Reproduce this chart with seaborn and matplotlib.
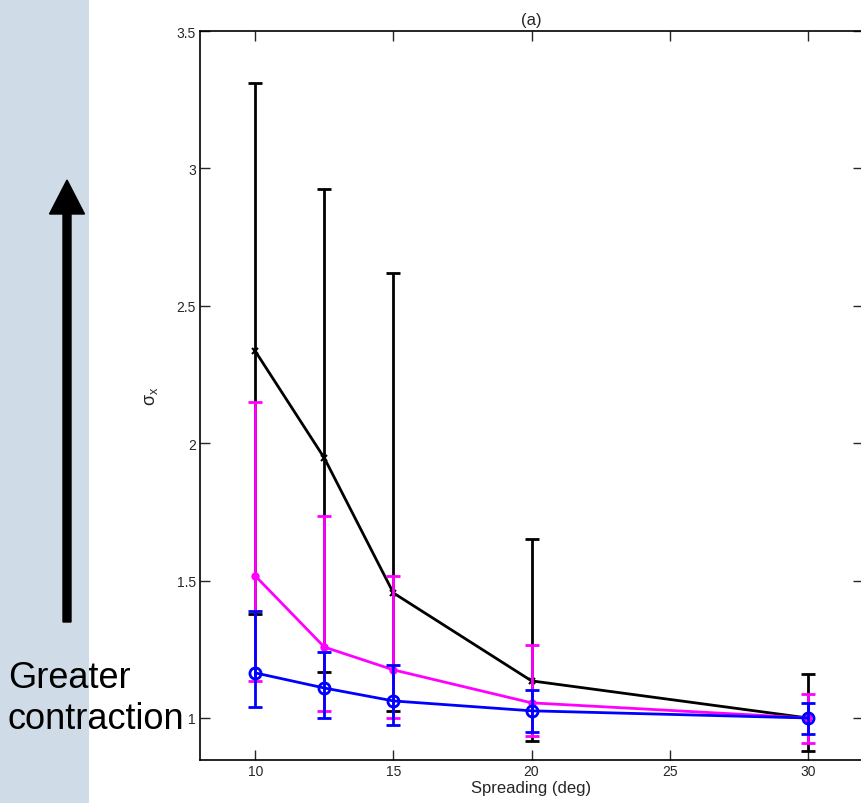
import matplotlib
matplotlib.use("Agg")
import matplotlib.pyplot as plt
import seaborn as sns
import pandas as pd
import numpy as np
from matplotlib.patches import Rectangle, FancyArrow

# ---- data ----
spreading = [10, 12.5, 15, 20, 30]
black_mean = [2.335, 1.946, 1.455, 1.135, 1.0]
black_upper = [3.311, 2.925, 2.619, 1.651, 1.160]
black_lower = [1.378, 1.167, 1.026, 0.916, 0.880]
magenta_mean = [1.517, 1.258, 1.175, 1.055, 1.0]
magenta_upper = [2.150, 1.735, 1.517, 1.266, 1.087]
magenta_lower = [1.135, 1.026, 1.000, 0.934, 0.909]
blue_mean = [1.164, 1.109, 1.062, 1.026, 1.0]
blue_upper = [1.389, 1.240, 1.193, 1.102, 1.055]
blue_lower = [1.040, 1.000, 0.975, 0.949, 0.942]
x_ticks = [10, 15, 20, 25, 30]
y_ticks = [1, 1.5, 2, 2.5, 3, 3.5]
y_tick_labels = ["1", "1.5", "2", "2.5", "3", "3.5"]

sns.set_style("ticks")
plt.rcParams['font.family'] = ['Liberation Sans', 'DejaVu Sans']
plt.rcParams['mathtext.fontset'] = 'custom'
plt.rcParams['mathtext.rm'] = 'Liberation Sans'
plt.rcParams['mathtext.it'] = 'Liberation Sans'

fig = plt.figure(figsize=(8.62, 8.04), dpi=100)

# left shaded band
fig.patches.append(Rectangle((0, 0), 89 / 862, 1, transform=fig.transFigure,
                             facecolor='#cfdce7', edgecolor='none', zorder=0))

ax = fig.add_axes([200 / 862, 1 - 761 / 804, 663 / 862, (761 - 32) / 804])

series = [
    ("black", black_mean, black_upper, black_lower, 'x', dict(markersize=4, mew=1.5, mfc='black')),
    ("magenta", magenta_mean, magenta_upper, magenta_lower, 'o', dict(markersize=5, mew=1, mfc='magenta')),
    ("blue", blue_mean, blue_upper, blue_lower, 'o', dict(markersize=8, mew=2, mfc='none')),
]

for i, (col, mean, up, lo, mk, mkw) in enumerate(series):
    mean_a = np.array(mean)
    yerr = [mean_a - np.array(lo), np.array(up) - mean_a]
    ax.errorbar(spreading, mean, yerr=yerr, fmt='none', ecolor=col,
                elinewidth=2, capsize=5, capthick=2, zorder=2 + i)
    df = pd.DataFrame({"x": spreading, "y": mean})
    sns.lineplot(data=df, x="x", y="y", ax=ax, color=col, linewidth=2,
                 marker=mk, markeredgecolor=col, zorder=2.5 + i, **mkw)

ax.set_xlim(8, 32)
ax.set_ylim(0.847, 3.5)
ax.set_xticks(x_ticks)
ax.set_xticklabels([str(t) for t in x_ticks])
ax.set_yticks(y_ticks)
ax.set_yticklabels(y_tick_labels)
ax.tick_params(direction='in', top=True, right=True, length=7, width=1,
               labelsize=10, pad=3)
for s in ax.spines.values():
    s.set_linewidth(1.2)
    s.set_color('black')
    s.set_visible(True)
ax.set_xlabel("Spreading (deg)", fontsize=12, labelpad=1)
ax.set_ylabel(r"$\sigma_x$", fontsize=13, labelpad=12)
ax.set_title("(a)", fontsize=12, pad=5)

# arrow
fig.patches.append(FancyArrow(67 / 862, 1 - 623 / 804, 0, (623 - 181) / 804,
                              width=8 / 862, head_width=35 / 862,
                              head_length=34 / 804, length_includes_head=True,
                              transform=fig.transFigure, color='black', zorder=3))
fig.text(8 / 862, 1 - 699 / 804, "Greater\ncontraction", fontsize=26,
         ha='left', va='center', linespacing=1.25, color='black')

fig.savefig("out.png", dpi=100)
